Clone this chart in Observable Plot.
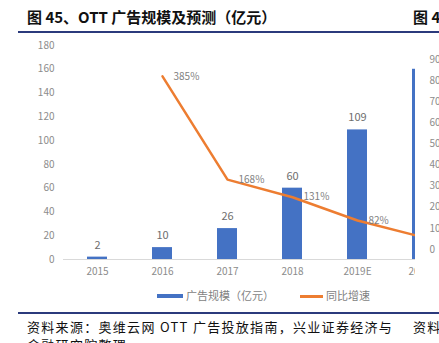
<!DOCTYPE html>
<html><head><meta charset="utf-8">
<script src="https://cdn.jsdelivr.net/npm/d3@7"></script>
<script src="https://cdn.jsdelivr.net/npm/@observablehq/plot@0.6"></script>
<style>
html,body{margin:0;padding:0;background:#fff;}
#wrap{position:relative;width:439px;height:343px;overflow:hidden;background:#fff;font-family:"Noto Sans CJK SC",sans-serif;}
.abs{position:absolute;white-space:nowrap;}
.title{font-size:15px;font-weight:700;color:#111;line-height:1;}
.rule{position:absolute;height:2px;background:#2b3a7c;}
.cap{font-size:13px;color:#111;letter-spacing:1.3px;line-height:1;}
.leg{font-size:11px;color:#7f7f7f;line-height:1;}
#chart svg, #next svg{max-width:none !important;}
</style></head>
<body><div id="wrap">
<div class="abs title" style="left:27px;top:9px;">图 45、OTT 广告规模及预测（亿元）</div>
<div class="abs title" style="left:413px;top:9px;">图 46</div>
<div class="rule" style="left:18px;top:31px;width:421px;"></div>
<div id="chart" class="abs" style="left:0;top:0;width:470px;height:300px;"></div>
<div id="next" class="abs" style="left:415px;top:36px;width:24px;height:260px;background:#fff;"></div>
<div class="abs" style="left:157px;top:294px;width:26px;height:4px;background:#4472C4;"></div>
<div class="abs leg" style="left:186px;top:290px;">广告规模（亿元）</div>
<div class="abs" style="left:300px;top:295px;width:23px;height:2.5px;background:#ED7D31;"></div>
<div class="abs leg" style="left:326px;top:290px;">同比增速</div>
<div class="rule" style="left:18px;top:312px;width:421px;"></div>
<div class="abs cap" style="left:27px;top:320px;">资料来源：奥维云网 OTT 广告投放指南，兴业证券经济与</div>
<div class="abs cap" style="left:413px;top:320px;">资料来源</div>
<div class="abs cap" style="left:27px;top:338px;">金融研究院整理</div>
</div>
<script>
const years = ["2015", "2016", "2017", "2018", "2019E", "2020E"];
const adScale = [2, 10, 26, 60, 109, 160];
const growthPct = [null, 385, 168, 131, 82, 47];
const leftTicks = [0, 20, 40, 60, 80, 100, 120, 140, 160, 180];
const growthMax = 450;
const nextTicks = [0, 10, 20, 30, 40, 50, 60, 70, 80, 90];

const yMax = 180;
const ratio = yMax / growthMax;
const data = years.map((year, i) => ({year, value: adScale[i], growth: growthPct[i]}));
const lineData = data.filter(d => d.growth != null);
const labelData = lineData.filter(d => d.year !== "2020E");
const barLabels = data.filter(d => d.year !== "2020E");

const chart = Plot.plot({
  width: 470, height: 300,
  marginLeft: 63, marginRight: 14, marginTop: 45, marginBottom: 41,
  style: {fontFamily: "'Noto Sans CJK SC', sans-serif", fontSize: "10px", color: "#8c8c8c", background: "transparent", maxWidth: "none"},
  x: {domain: years, paddingInner: 0.69, paddingOuter: 0.345, label: null},
  y: {domain: [0, yMax], label: null},
  marks: [
    Plot.axisY(leftTicks, {tickSize: 0, tickPadding: 9, label: null, fill: "#8c8c8c"}),
    Plot.axisX({tickSize: 0, tickPadding: 8, label: null, fill: "#8c8c8c"}),
    Plot.barY(data, {x: "year", y: "value", fill: "#4472C4"}),
    Plot.ruleY([0], {stroke: "#d9d9d9"}),
    Plot.text(barLabels, {x: "year", y: "value", text: d => String(d.value), dy: -12, fill: "#6e6e6e", fontSize: 11}),
    Plot.line(lineData, {x: "year", y: d => d.growth * ratio, stroke: "#ED7D31", strokeWidth: 2.5}),
    Plot.text(labelData, {x: "year", y: d => d.growth * ratio, text: d => d.growth + "%", dx: 11, textAnchor: "start", fill: "#7f7f7f"})
  ]
});
document.getElementById("chart").appendChild(chart);

const next = Plot.plot({
  width: 24, height: 260,
  marginLeft: 0, marginRight: 0, marginTop: 32, marginBottom: 38,
  style: {fontFamily: "'Noto Sans CJK SC', sans-serif", fontSize: "10px", color: "#8c8c8c", background: "transparent", maxWidth: "none"},
  x: {domain: [0, 1], axis: null},
  y: {domain: [0, 90], range: [213, 23], axis: null},
  marks: [
    Plot.text(nextTicks, {y: d => d, text: d => String(d), frameAnchor: "left", dx: 14, fill: "#8c8c8c"})
  ]
});
document.getElementById("next").appendChild(next);
</script>
</body></html>
